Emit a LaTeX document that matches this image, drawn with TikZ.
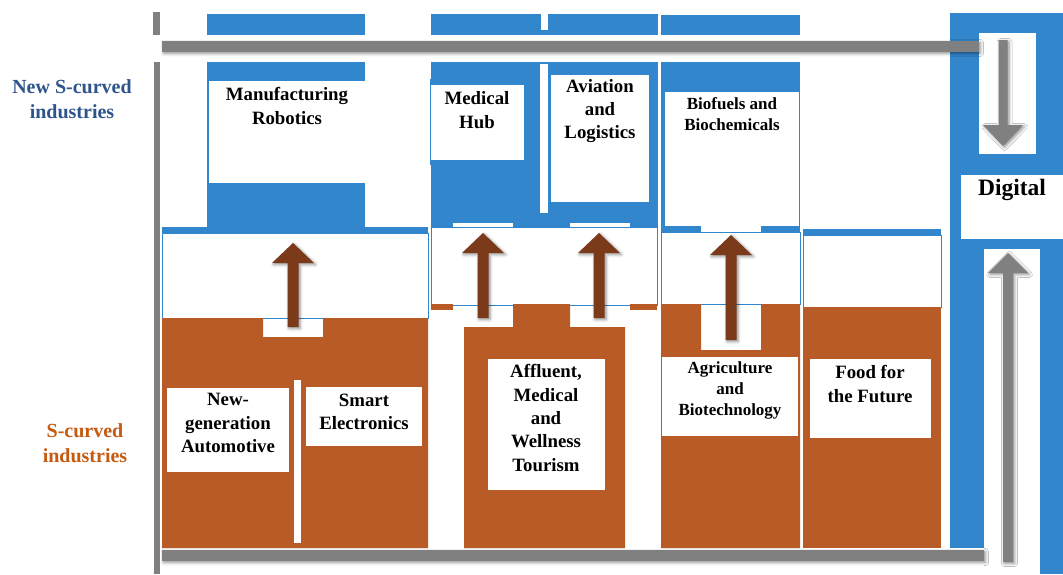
\documentclass[tikz,border=0pt]{standalone}
\usepackage{fontspec}
\setmainfont{Liberation Serif}
\usepackage{tikz}
\usetikzlibrary{shadows.blur}
\definecolor{sblue}{RGB}{50,134,204}
\definecolor{sbrown}{RGB}{185,91,38}
\definecolor{darr}{RGB}{123,58,26}
\definecolor{bar}{RGB}{128,128,128}
\definecolor{newlabel}{RGB}{46,84,140}
\definecolor{oldlabel}{RGB}{197,90,17}
\tikzstyle{name text}=[font=\bfseries\fontsize{18.8}{23.3}\selectfont,align=center,inner sep=0pt]
\tikzstyle{small text}=[font=\bfseries\fontsize{17}{21}\selectfont,align=center,inner sep=0pt]
\tikzstyle{side text}=[font=\bfseries\fontsize{20}{25}\selectfont,align=center,inner sep=0pt]
\tikzstyle{soft shadow}=[blur shadow={shadow xshift=1.5pt,shadow yshift=-1.5pt,shadow blur radius=3pt,shadow opacity=45}]

\begin{document}
\begin{tikzpicture}[x=1pt,y=-1pt]
\useasboundingbox (0,0) rectangle (1063,574);
% blue strips above the top bar
\fill[sblue] (207,14) rectangle (365,35);
\fill[sblue] (431,14) rectangle (658,35);
\fill[white] (541,14) rectangle (548,30);
\fill[sblue] (661,15) rectangle (800,35);
% digital column
\fill[sblue] (950,13) rectangle (1063,548);
\fill[sblue] (1040,548) rectangle (1063,574);
\fill[white] (979,33) rectangle (1036,154);
\fill[white] (961,175) rectangle (1063,239);
\fill[white] (984,249) rectangle (1040,574);
% manufacturing robotics
\fill[sblue] (207,62) rectangle (365,227);
\fill[white] (209,81) rectangle (365,183);
\fill[sblue] (162,227) rectangle (428,233);
\draw[sblue,thin] (162,233) rectangle (428,318);
\fill[sbrown] (162,318) -- (263,318) -- (263,337) -- (323,337) -- (323,318) -- (428,318) -- (428,548) -- (162,548) -- cycle;
\fill[white] (294,380) rectangle (301,543);
\fill[white] (167,388) rectangle (289,472);
\fill[white] (306,387) rectangle (422,446);
% medical hub, aviation and logistics
\fill[sblue] (431,62) rectangle (658,227);
\fill[white] (540,64) rectangle (548,213);
\fill[white] (431,85) rectangle (524,160);
\draw[sblue,thin] (430,79) -- (430,165);
\fill[white] (551,75) rectangle (649,202);
\fill[white] (453,223) rectangle (513,227);
\fill[white] (570,223) rectangle (630,227);
\draw[sblue,thin] (431,227) rectangle (657,305);
\fill[sbrown] (431,304) rectangle (453,310);
\fill[sbrown] (630,304) rectangle (657,310);
\fill[sbrown] (464,327) -- (513,327) -- (513,304) -- (570,304) -- (570,327) -- (625,327) -- (625,548) -- (464,548) -- cycle;
\fill[white] (488,359) rectangle (605,490);
% biofuels and biochemicals
\fill[sblue] (661,62) rectangle (800,226);
\fill[white] (665,92) rectangle (799,226);
\fill[sblue] (661,226) rectangle (701,232);
\fill[sblue] (761,226) rectangle (800,232);
\draw[sblue,thin] (661,232) rectangle (800,304);
\fill[sbrown] (661,304) -- (701,304) -- (701,350) -- (761,350) -- (761,304) -- (800,304) -- (800,548) -- (661,548) -- cycle;
\fill[white] (662,357) rectangle (798,436);
% food for the future
\fill[sblue] (803,229) rectangle (941,235);
\draw[sblue,thin] (803,235) rectangle (941,307);
\fill[sbrown] (803,307) rectangle (941,548);
\fill[white] (810,359) rectangle (931,438);
% gray bars
\fill[bar] (153,12) rectangle (160,35);
\fill[bar] (154,62) rectangle (160,574);
\fill[bar,soft shadow] (162,41) rectangle (979,52);
\fill[bar,soft shadow] (162,550) rectangle (984,561);
% arrows
\fill[darr,soft shadow] (293,243) -- (314,263) -- (298.5,263) -- (298.5,327) -- (287.5,327) -- (287.5,263) -- (272,263) -- cycle;
\fill[darr,soft shadow] (483,233) -- (504,253) -- (488.5,253) -- (488.5,318) -- (477.5,318) -- (477.5,253) -- (462,253) -- cycle;
\fill[darr,soft shadow] (599,233) -- (620,253) -- (604.5,253) -- (604.5,318) -- (593.5,318) -- (593.5,253) -- (578,253) -- cycle;
\fill[darr,soft shadow] (731,235) -- (752,255) -- (736.5,255) -- (736.5,340) -- (725.5,340) -- (725.5,255) -- (710,255) -- cycle;
\fill[bar,soft shadow] (1003,146) -- (1023,125) -- (1007.5,125) -- (1007.5,40) -- (998.5,40) -- (998.5,125) -- (983,125) -- cycle;
\fill[bar,soft shadow] (1008,253) -- (1028,273) -- (1013,273) -- (1013,562) -- (1003,562) -- (1003,273) -- (988,273) -- cycle;
% labels
\node[side text,text=newlabel] (newlab) at (72,99) {New S-curved\\industries};
\node[side text,text=oldlabel] (oldlab) at (85,443) {S-curved\\industries};
\node[name text] (mfg) at (287,106) {Manufacturing\\Robotics};
\node[name text] (hub) at (477,110) {Medical\\Hub};
\node[name text] (avi) at (600,111) {Aviation\\and\\Logistics};
\node[small text] (bio) at (732,114) {Biofuels and\\Biochemicals};
\node[name text,font=\bfseries\fontsize{23.5}{28}\selectfont] (digi) at (1012,190) {Digital};
\node[name text] (auto) at (228,423) {New-\\generation\\Automotive};
\node[name text] (smart) at (364,412) {Smart\\Electronics};
\node[name text] (tour) at (546,418) {Affluent,\\Medical\\and\\Wellness\\Tourism};
\node[small text] (agri) at (730,390) {Agriculture\\and\\Biotechnology};
\node[name text] (food) at (870,384) {Food for\\the Future};
\end{tikzpicture}
\end{document}
